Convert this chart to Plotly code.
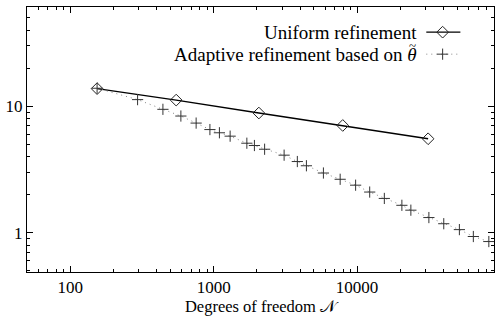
import plotly.graph_objects as go
import numpy as np

# Data
uniform_N = [154, 548, 2066, 7940, 31260]
uniform_err = [13.8, 11.2, 8.85, 7.06, 5.54]

adaptive_N = [154, 295, 443, 591, 755, 942, 1097, 1303, 1704, 1924, 2266, 3099,
              3831, 4433, 5823, 7620, 9765, 12240, 15480, 20520, 23700, 31650,
              40180, 51640, 64600, 82830]
adaptive_err = [13.9, 11.3, 9.47, 8.38, 7.37, 6.55, 6.18, 5.81, 5.11, 4.90, 4.58, 4.11,
                3.66, 3.39, 2.97, 2.65, 2.38, 2.10, 1.87, 1.65, 1.51, 1.32,
                1.18, 1.06, 0.935, 0.853]

x_ticks = [100, 1000, 10000]
y_ticks = [1, 10]
x_minor = [m * 10 ** d for d in range(1, 5) for m in range(2, 10)]
y_minor = [m * 10 ** d for d in range(-1, 2) for m in range(2, 10)]
legend_labels = ["Uniform refinement", "Adaptive refinement based on <i>θ</i>"]
x_title = "Degrees of freedom 𝒩"

FONT = "Liberation Serif, Times New Roman, serif"
XR = [np.log10(50), np.log10(90000)]
YR = [np.log10(0.49), np.log10(61)]

fig = go.Figure()
fig.add_trace(go.Scatter(
    x=uniform_N, y=uniform_err, mode="lines+markers",
    line=dict(color="black", width=1.4),
    marker=dict(symbol="diamond-open", size=9, color="#222", line=dict(width=1)),
    showlegend=False))
fig.add_trace(go.Scatter(
    x=adaptive_N, y=adaptive_err, mode="lines+markers",
    line=dict(color="#888", width=1, dash="1px,4px"),
    marker=dict(symbol="cross-thin-open", size=8, color="#333", line=dict(width=1, color="#333")),
    showlegend=False))

# minor-tick overlay axes
fig.add_trace(go.Scatter(x=[], y=[], xaxis="x3", yaxis="y3", showlegend=False))

# Legend samples on a hidden overlay axis
LY1, LY2 = 0.905, 0.822
fig.add_trace(go.Scatter(
    x=[0.855, 0.890, 0.928], y=[LY1] * 3, xaxis="x2", yaxis="y2",
    mode="lines", line=dict(color="black", width=1.4), showlegend=False, hoverinfo="skip"))
fig.add_trace(go.Scatter(
    x=[0.890], y=[LY1], xaxis="x2", yaxis="y2", mode="markers",
    marker=dict(symbol="diamond-open", size=9, color="#222", line=dict(width=1)),
    showlegend=False, hoverinfo="skip"))
fig.add_trace(go.Scatter(
    x=[0.855, 0.890, 0.928], y=[LY2] * 3, xaxis="x2", yaxis="y2",
    mode="lines", line=dict(color="#888", width=1, dash="1px,4px"), showlegend=False, hoverinfo="skip"))
fig.add_trace(go.Scatter(
    x=[0.890], y=[LY2], xaxis="x2", yaxis="y2", mode="markers",
    marker=dict(symbol="cross-thin-open", size=8, color="#333", line=dict(width=1, color="#333")),
    showlegend=False, hoverinfo="skip"))

fig.add_annotation(x=0.839, y=LY1, xref="x2", yref="y2", text=legend_labels[0],
                   showarrow=False, xanchor="right", yanchor="middle",
                   font=dict(family=FONT, size=19, color="black"))
fig.add_annotation(x=0.839, y=LY2, xref="x2", yref="y2", text=legend_labels[1],
                   showarrow=False, xanchor="right", yanchor="middle",
                   font=dict(family=FONT, size=19, color="black"))
# tilde accent over theta
fig.add_annotation(x=0.826, y=0.853, xref="x2", yref="y2", text="~",
                   showarrow=False, xanchor="center", yanchor="middle",
                   font=dict(family=FONT, size=13, color="black"))

axis_common = dict(showline=True, linecolor="black", linewidth=1, mirror="allticks",
                   ticks="inside", ticklen=6, tickcolor="black", showgrid=False, zeroline=False,
                   tickfont=dict(family=FONT, size=17, color="black"))

fig.update_layout(
    width=498, height=319,
    margin=dict(l=27, r=4, t=7, b=47),
    paper_bgcolor="white", plot_bgcolor="white",
    xaxis=dict(type="log", range=XR,
               tickvals=x_ticks, ticktext=[str(v) for v in x_ticks],
               title=dict(text=x_title, font=dict(family=FONT, size=16.5, color="black"), standoff=4),
               **axis_common),
    yaxis=dict(type="log", range=YR,
               tickvals=y_ticks, ticktext=[str(v) for v in y_ticks],
               **axis_common),
    xaxis3=dict(type="log", range=XR, overlaying="x", tickvals=x_minor, showticklabels=False,
                ticks="inside", ticklen=3, tickcolor="black", mirror="allticks",
                showline=False, showgrid=False, zeroline=False, fixedrange=True),
    yaxis3=dict(type="log", range=YR, overlaying="y", tickvals=y_minor, showticklabels=False,
                ticks="inside", ticklen=3, tickcolor="black", mirror="allticks",
                showline=False, showgrid=False, zeroline=False, fixedrange=True),
    xaxis2=dict(overlaying="x", range=[0, 1], visible=False, fixedrange=True),
    yaxis2=dict(overlaying="y", range=[0, 1], visible=False, fixedrange=True),
)

fig.write_html("out.html")
